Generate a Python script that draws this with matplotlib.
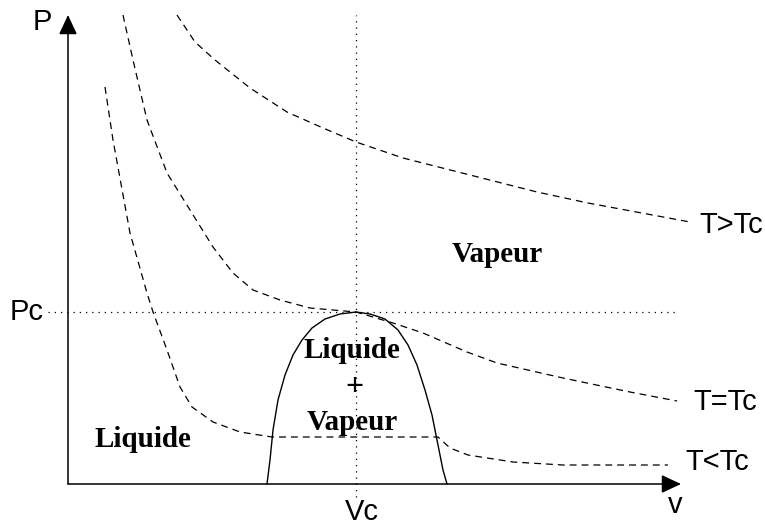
import matplotlib
matplotlib.use("Agg")
import matplotlib.pyplot as plt

# ---- data (v, P in arbitrary diagram units; origin at axes corner) ----
Vc = 288
Pc = 172

dome_v = [199, 202, 205, 210, 217, 225, 234, 244, 257, 272, 288, 302, 317, 330, 340, 349, 357, 364, 370, 375, 379]
dome_p = [0, 24, 54, 84, 109, 129, 144, 156, 165, 170, 172, 170, 165, 154, 139, 119, 94, 69, 39, 14, 0]

iso_high_v = [109, 127, 147, 182, 219, 255, 288, 335, 402, 469, 520, 622]
iso_high_p = [469, 442, 424, 396, 372, 356, 342, 326, 309, 292, 281, 262]

iso_crit_v = [55, 65, 79, 99, 122, 145, 165, 185, 212, 242, 288, 325, 355, 399, 429, 495, 562, 609]
iso_crit_p = [469, 424, 364, 311, 274, 237, 211, 194, 184, 176, 172, 161, 151, 132, 121, 106, 92, 83]

iso_low_v = [37, 45, 62, 79, 85, 99, 112, 124, 145, 172, 204, 370, 382, 400, 445, 495, 600]
iso_low_p = [397, 344, 251, 191, 172, 134, 97, 77, 62, 52, 47, 47, 36, 29, 22, 19, 19]

iso_labels = ["T>Tc", "T=Tc", "T<Tc"]

# ---- figure ----
fig = plt.figure(figsize=(7.65, 5.25), dpi=100)
ax = fig.add_axes([0, 0, 1, 1])
ax.set_xlim(-68, 697)
ax.set_ylim(-41, 484)
ax.axis("off")

sans = "Liberation Sans"
serif = "Liberation Serif"
fs_sans = 21
fs_serif = 21

dash = (0, (5.5, 4))
dot = (0, (1, 4))

# isotherms
for vv, pp in [(iso_high_v, iso_high_p), (iso_crit_v, iso_crit_p), (iso_low_v, iso_low_p)]:
    ax.plot(vv, pp, color="black", lw=0.9, linestyle=dash)

# dome
ax.plot(dome_v, dome_p, color="black", lw=1.0)

# critical dotted lines
ax.plot([-20, 610], [Pc, Pc], color="black", lw=0.9, linestyle=dot)
ax.plot([Vc, Vc], [-13, 469], color="black", lw=0.9, linestyle=dot)

# axes with arrows
arrow = dict(arrowstyle="-|>,head_length=0.6,head_width=0.28", mutation_scale=20,
             lw=1.1, color="black", shrinkA=0, shrinkB=0)
ax.annotate("", xy=(0, 469), xytext=(0, 0), arrowprops=arrow)
ax.annotate("", xy=(613, 0), xytext=(0, 0), arrowprops=arrow)

# axis labels
ax.text(-35, 454, "P", fontsize=fs_sans, family=sans, ha="left", va="baseline")
ax.text(-24, 164, "Pc", fontsize=fs_sans, family=sans, ha="right", va="baseline")
ax.text(277, -36, "Vc", fontsize=fs_sans, family=sans, ha="left", va="baseline")
ax.text(600, -29, "v", fontsize=fs_sans, family=sans, ha="left", va="baseline")

# isotherm labels
ax.text(631, 251, iso_labels[0], fontsize=fs_sans, family=sans, ha="left", va="baseline")
ax.text(625, 74, iso_labels[1], fontsize=fs_sans, family=sans, ha="left", va="baseline")
ax.text(617, 14, iso_labels[2], fontsize=fs_sans, family=sans, ha="left", va="baseline")

# region labels
ax.text(429, 222, "Vapeur", fontsize=fs_serif, family=serif, weight="bold", ha="center", va="baseline")
ax.text(27, 37, "Liquide", fontsize=fs_serif, family=serif, weight="bold", ha="left", va="baseline")
ax.text(284, 126, "Liquide", fontsize=fs_serif, family=serif, weight="bold", ha="center", va="baseline")
ax.text(286, 89, "+", fontsize=fs_serif + 2, family=serif, weight="bold", ha="center", va="baseline")
ax.text(284, 54, "Vapeur", fontsize=fs_serif, family=serif, weight="bold", ha="center", va="baseline")

fig.savefig("out.png", dpi=100)
